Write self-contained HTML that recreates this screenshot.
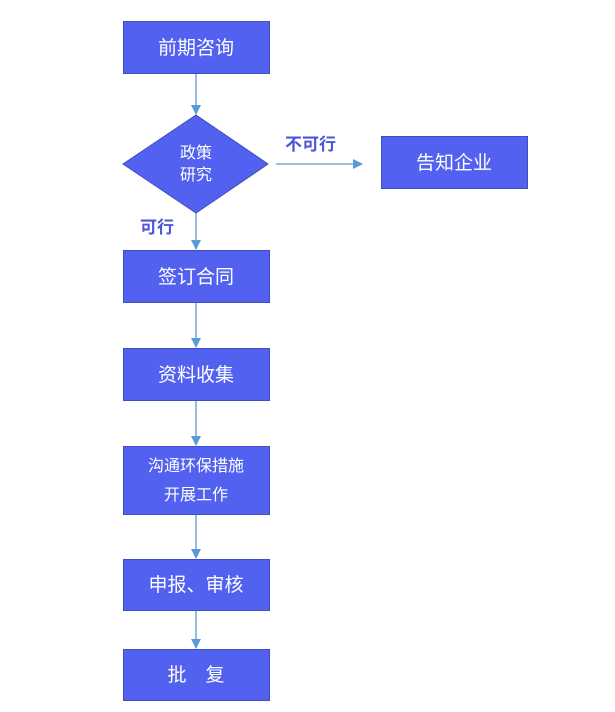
<!DOCTYPE html>
<html><head><meta charset="utf-8"><style>
body{margin:0;background:#fff;width:615px;height:707px;overflow:hidden}
</style></head><body>
<svg width="615" height="707" xmlns="http://www.w3.org/2000/svg" font-family="Liberation Sans, Noto Sans CJK SC, sans-serif">
<defs><marker id="a" markerWidth="10" markerHeight="10" refX="9" refY="5" orient="auto" markerUnits="userSpaceOnUse"><path d="M0,0 L10,5 L0,10 z" fill="#5b9bd5"/></marker></defs>
<g stroke="#5b9bd5" stroke-width="1.3" fill="none">
<line x1="196" y1="73" x2="196" y2="114" marker-end="url(#a)"/>
<line x1="196" y1="213" x2="196" y2="249" marker-end="url(#a)"/>
<line x1="276" y1="164" x2="362" y2="164" marker-end="url(#a)"/>
<line x1="196" y1="302" x2="196" y2="347" marker-end="url(#a)"/>
<line x1="196" y1="400" x2="196" y2="445" marker-end="url(#a)"/>
<line x1="196" y1="514" x2="196" y2="558" marker-end="url(#a)"/>
<line x1="196" y1="610" x2="196" y2="648" marker-end="url(#a)"/>
</g>
<g fill="#5261f0" stroke="#3f4fb8" stroke-width="1">
<rect x="123.5" y="21.5" width="146" height="52"/>
<polygon points="196,115 268,164 196,213 123,164"/>
<rect x="381.5" y="136.5" width="146" height="52"/>
<rect x="123.5" y="250.5" width="146" height="52"/>
<rect x="123.5" y="348.5" width="146" height="52"/>
<rect x="123.5" y="446.5" width="146" height="68"/>
<rect x="123.5" y="559.5" width="146" height="51"/>
<rect x="123.5" y="649.5" width="146" height="51"/>
</g>
<g fill="#fff" text-anchor="middle" font-size="19">
<text x="196" y="54">前期咨询</text>
<text x="454" y="169">告知企业</text>
<text x="196" y="283">签订合同</text>
<text x="196" y="381">资料收集</text>
<text x="196" y="591">申报、审核</text>
<text x="196" y="681">批　复</text>
<text x="196" y="158" font-size="16">政策</text>
<text x="196" y="180" font-size="16">研究</text>
<text x="196" y="471" font-size="16">沟通环保措施</text>
<text x="196" y="500" font-size="16">开展工作</text>
</g>
<g fill="#4a55d8" font-weight="bold" font-size="17">
<text x="285" y="150">不可行</text>
<text x="140" y="233">可行</text>
</g>
</svg>
</body></html>
